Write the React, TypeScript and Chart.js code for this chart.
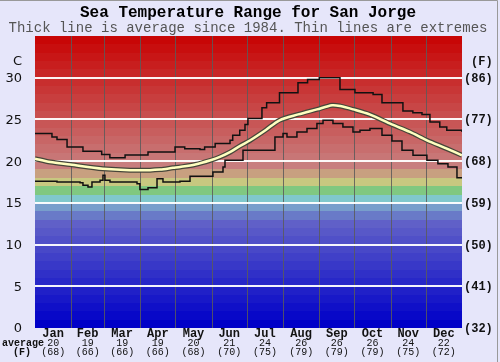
import React, { useEffect, useRef } from "react";
import { Chart, registerables } from "chart.js";

Chart.register(...registerables);

// ---- data (day of year, degrees C) ----
const maxDays = [0, 14.5, 18.8, 27.4, 41, 57, 64, 77, 96.6, 119.7, 128, 141, 145, 154, 166.7, 169, 175, 179.5, 182, 194, 198, 209, 224.8, 233, 243, 259, 260.7, 273.5, 289, 296.6, 314.5, 323, 330.8, 337.6, 346, 352, 365];
const maxVals = [23.3, 22.9, 22.6, 21.7, 21.2, 20.8, 20.4, 20.75, 21.1, 21.7, 21.5, 21.4, 21.7, 22.1, 22.5, 23.1, 23.7, 24.4, 25.1, 26.4, 27.0, 28.2, 29.4, 29.8, 30.0, 30.0, 28.6, 28.2, 28.0, 27.0, 26.0, 25.8, 25.6, 24.7, 24.1, 23.7, 23.5];

const avgDays = [0, 13, 30, 58, 90, 107, 118, 124, 137, 150, 158, 167, 175, 184, 197, 209, 225, 241, 254, 261, 272, 286, 305, 320.5, 335, 352, 365];
const avgVals = [20.3, 19.9, 19.6, 19.1, 18.9, 19.0, 19.2, 19.3, 19.6, 20.1, 20.5, 21.1, 21.8, 22.5, 23.7, 24.9, 25.6, 26.2, 26.7, 26.6, 26.2, 25.6, 24.4, 23.5, 22.5, 21.5, 20.7];

const minDays = [0, 18.8, 38.5, 41, 45.3, 48.7, 55.6, 58.1, 59.8, 64.1, 87.2, 89.7, 96.6, 104.3, 109.4, 123.9, 132.5, 147, 152.1, 160.7, 162.4, 175.2, 177.8, 194, 205.1, 212, 215.4, 223.9, 232.5, 241, 246.2, 250.4, 254.7, 263.2, 271.8, 277.8, 286.3, 296.6, 305.1, 313.7, 323.1, 335, 344.4, 353, 360.7, 365];
const minVals = [17.6, 17.5, 17.4, 17.1, 16.9, 17.5, 17.7, 18.3, 17.7, 17.5, 17.3, 16.6, 16.8, 17.9, 17.5, 17.6, 18.2, 18.2, 18.7, 19.3, 20.1, 20.1, 21.3, 21.3, 22.9, 23.3, 22.9, 23.5, 23.9, 24.5, 24.9, 24.9, 24.5, 24.1, 23.5, 23.7, 23.9, 23.1, 22.4, 21.3, 20.7, 20.1, 19.7, 19.3, 18.0, 18.0];

const monthStarts = [0, 31, 59, 90, 120, 151, 181, 212, 243, 273, 304, 334, 365];
const monthNames = ["Jan", "Feb", "Mar", "Apr", "May", "Jun", "Jul", "Aug", "Sep", "Oct", "Nov", "Dec"];
const monthAvgC = [20, 19, 19, 19, 20, 21, 24, 26, 26, 26, 24, 22];
const monthAvgF = [68, 66, 66, 66, 68, 70, 75, 79, 79, 79, 75, 72];

const yTicksC = [0, 5, 10, 15, 20, 25, 30];
const yTicksF = [32, 41, 50, 59, 68, 77, 86];

const TITLE = "Sea Temperature Range for San Jorge";
const SUBTITLE = "Thick line is average since 1984. Thin lines are extremes";

function bandColor(v: number): string {
  if (v <= 12) return `rgb(${8 * v},${8 * v},200)`;
  if (v === 13) return "rgb(105,122,200)";
  if (v === 14) return "rgb(120,158,204)";
  if (v === 15) return "rgb(128,200,204)";
  if (v === 16) return "rgb(128,200,128)";
  if (v === 17) return "rgb(200,200,128)";
  if (v === 18) return "rgb(200,160,128)";
  const g = Math.max(0, 126 - 8 * (v - 19));
  return `rgb(200,${g},${g})`;
}

const pts = (xs: number[], ys: number[]) => xs.map((x, i) => ({ x, y: ys[i] }));

const decor = {
  id: "decor",
  beforeDraw(chart: any) {
    const { ctx, chartArea: a, scales } = chart;
    const x = scales.x, y = scales.y;
    ctx.save();
    ctx.fillStyle = "#e6e6fa";
    ctx.fillRect(0, 0, chart.width, chart.height);
    ctx.strokeStyle = "#999";
    ctx.lineWidth = 1;
    ctx.beginPath();
    ctx.moveTo(0, 0.5);
    ctx.lineTo(497.5, 0.5);
    ctx.lineTo(497.5, chart.height);
    ctx.stroke();
    // temperature bands
    for (let v = 0; v < 35; v++) {
      const yt = Math.round(y.getPixelForValue(v + 1));
      const yb = Math.round(y.getPixelForValue(v));
      ctx.fillStyle = bandColor(v);
      ctx.fillRect(a.left, yt, a.right - a.left, yb - yt);
    }
    // vertical month lines
    ctx.strokeStyle = "rgba(90,90,90,0.85)";
    ctx.lineWidth = 1;
    for (let i = 1; i < 12; i++) {
      const px = Math.round(x.getPixelForValue(monthStarts[i])) + 0.5;
      ctx.beginPath();
      ctx.moveTo(px, a.top);
      ctx.lineTo(px, a.bottom);
      ctx.stroke();
    }
    // horizontal white lines
    ctx.strokeStyle = "rgba(255,255,255,0.95)";
    ctx.lineWidth = 2;
    for (const t of yTicksC) {
      if (t === 0) continue;
      const py = Math.round(y.getPixelForValue(t));
      ctx.beginPath();
      ctx.moveTo(a.left, py);
      ctx.lineTo(a.right, py);
      ctx.stroke();
    }
    ctx.restore();
  },
  afterDraw(chart: any) {
    const { ctx, scales } = chart;
    const x = scales.x, y = scales.y;
    ctx.save();
    ctx.textBaseline = "middle";
    // titles
    ctx.textAlign = "center";
    ctx.fillStyle = "#000";
    ctx.font = "bold 16px 'Liberation Mono', monospace";
    ctx.fillText(TITLE, 248, 13);
    ctx.fillStyle = "#555";
    ctx.font = "14px 'Liberation Mono', monospace";
    ctx.fillText(SUBTITLE, 248, 28);
    // left ticks
    ctx.fillStyle = "#111";
    ctx.textAlign = "right";
    ctx.font = "13px 'DejaVu Sans', sans-serif";
    yTicksC.forEach((t) => {
      ctx.fillText(String(t), 22, y.getPixelForValue(t) + 1);
    });
    ctx.fillText("C", 22, 62);
    // right ticks
    ctx.textAlign = "left";
    ctx.font = "bold 12px 'Liberation Mono', monospace";
    yTicksF.forEach((f, i) => {
      ctx.fillText(`(${f})`, 464, y.getPixelForValue(yTicksC[i]) + 1);
    });
    ctx.fillText("(F)", 471, 62);
    // month labels
    ctx.textAlign = "center";
    for (let i = 0; i < 12; i++) {
      const cx = x.getPixelForValue((monthStarts[i] + monthStarts[i + 1]) / 2);
      ctx.font = "bold 12px 'Liberation Mono', monospace";
      ctx.fillText(monthNames[i], cx, 334);
      ctx.font = "10px 'Liberation Mono', monospace";
      ctx.fillText(String(monthAvgC[i]), cx, 343);
      ctx.fillText(`(${monthAvgF[i]})`, cx, 352);
    }
    ctx.font = "bold 10px 'Liberation Mono', monospace";
    ctx.textAlign = "left";
    ctx.fillText("average", 2, 343);
    ctx.textAlign = "center";
    ctx.fillText("(F)", 22, 352);
    ctx.restore();
  },
};

export default function App() {
  const ref = useRef<HTMLCanvasElement | null>(null);
  useEffect(() => {
    document.body.style.margin = "0";
    if (!ref.current) return;
    const chart = new Chart(ref.current, {
      type: "line",
      data: {
        datasets: [
          {
            data: pts(avgDays, avgVals),
            borderColor: "#ffffc0",
            borderWidth: 2.5,
            tension: 0.3,
            pointRadius: 0,
            order: 0,
          },
          {
            data: pts(avgDays, avgVals),
            borderColor: "#46463a",
            borderWidth: 5,
            tension: 0.3,
            pointRadius: 0,
            order: 1,
          },
          {
            data: pts(maxDays, maxVals),
            borderColor: "#111",
            borderWidth: 1.5,
            stepped: true,
            pointRadius: 0,
            order: 2,
          },
          {
            data: pts(minDays, minVals),
            borderColor: "#111",
            borderWidth: 1.5,
            stepped: true,
            pointRadius: 0,
            order: 3,
          },
        ],
      },
      options: {
        animation: false,
        responsive: false,
        maintainAspectRatio: false,
        layout: { padding: { left: 35, right: 38, top: 36, bottom: 34 } },
        plugins: { legend: { display: false }, tooltip: { enabled: false }, title: { display: false } },
        scales: {
          x: { type: "linear", min: 0, max: 365, display: false },
          y: { type: "linear", min: 0, max: 35, display: false },
        },
      },
      plugins: [decor],
    });
    return () => chart.destroy();
  }, []);
  return <canvas ref={ref} width={500} height={362} style={{ display: "block" }} />;
}
